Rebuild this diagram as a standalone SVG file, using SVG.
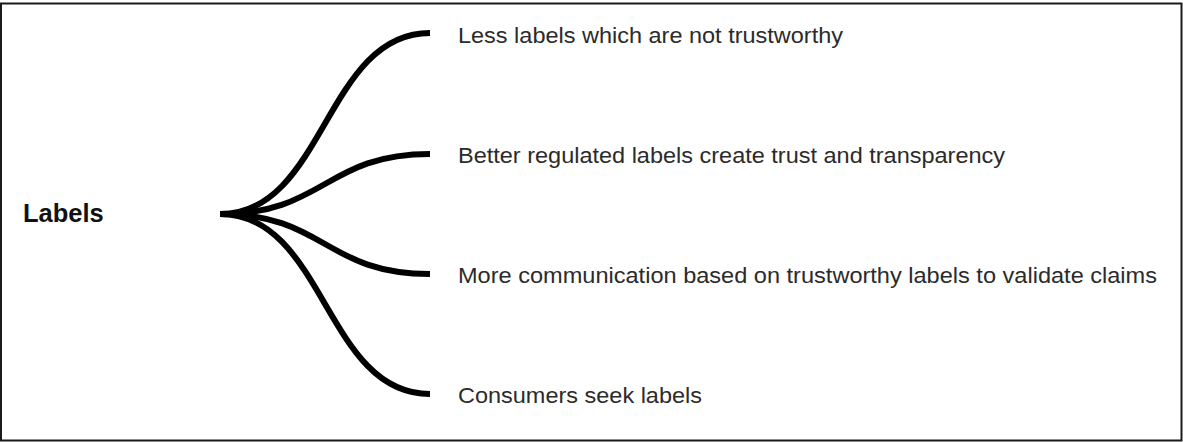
<svg xmlns="http://www.w3.org/2000/svg" width="1183" height="442" viewBox="0 0 1183 442">
  <style>
    .frame { fill: #ffffff; stroke: #1a1a1a; stroke-width: 2; }
    .branch { fill: none; stroke: #000000; stroke-width: 6; stroke-linecap: butt; }
    .root { font-family: "Liberation Sans", Arial, sans-serif; font-size: 25.5px; font-weight: bold; fill: #111111; }
    .leaf { font-family: "Liberation Sans", Arial, sans-serif; font-size: 21.5px; fill: #2b2b2b; }
  </style>

  <!-- outer frame -->
  <rect class="frame" x="1" y="3.5" width="1180.5" height="437"/>

  <!-- curved connectors from the root out to each item -->
  <g id="connectors">
    <path class="branch" d="M220,214 C325,214 325,33 430,33"/>
    <path class="branch" d="M220,214 C325,214 325,154 430,154"/>
    <path class="branch" d="M220,214 C325,214 325,274 430,274"/>
    <path class="branch" d="M220,214 C325,214 325,394 430,394"/>
  </g>

  <g id="root">
    <text class="root" x="23" y="222">Labels</text>
  </g>

  <g id="item-1">
    <text class="leaf" x="458" y="43" textLength="385" lengthAdjust="spacingAndGlyphs">Less labels which are not trustworthy</text>
  </g>
  <g id="item-2">
    <text class="leaf" x="458" y="163" textLength="547" lengthAdjust="spacingAndGlyphs">Better regulated labels create trust and transparency</text>
  </g>
  <g id="item-3">
    <text class="leaf" x="458" y="283" textLength="699" lengthAdjust="spacingAndGlyphs">More communication based on trustworthy labels to validate claims</text>
  </g>
  <g id="item-4">
    <text class="leaf" x="458" y="403" textLength="244" lengthAdjust="spacingAndGlyphs">Consumers seek labels</text>
  </g>
</svg>
